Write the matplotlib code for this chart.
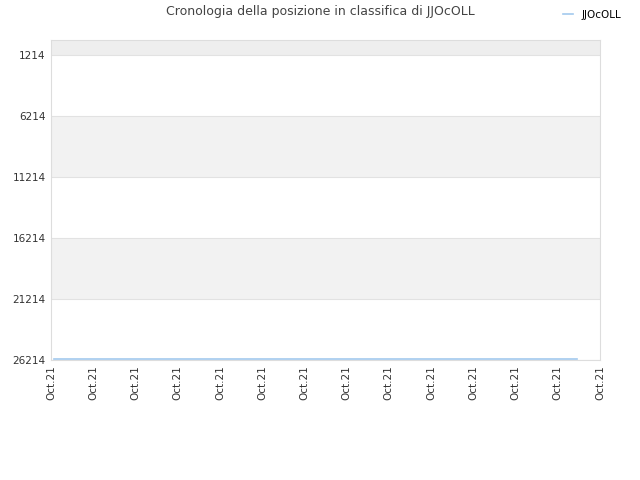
import matplotlib
matplotlib.use("Agg")
import matplotlib.pyplot as plt

title = "Cronologia della posizione in classifica di JJOcOLL"
series_name = "JJOcOLL"
x_ticks = list(range(14))
x_labels = ["Oct.21"] * 14
y_ticks = [1214, 6214, 11214, 16214, 21214, 26214]
x_values = [0.07, 3.0, 6.0, 9.0, 12.45]
ranks = [26150, 26150, 26150, 26150, 26150]

fig = plt.figure(figsize=(6.4, 4.8), dpi=100)
ax = fig.add_axes([0.0797, 0.25, 0.8578, 0.6667])

ax.set_ylim(26214, -15)
ax.set_xlim(0, 13)

# alternating bands
bands = [(-15, 1214, "#eeeeee"), (6214, 11214, "#f2f2f2"), (16214, 21214, "#f2f2f2")]
for lo, hi, c in bands:
    ax.axhspan(lo, hi, color=c, zorder=0, lw=0)
for y in y_ticks:
    ax.axhline(y, color="#e2e2e2", lw=0.8, zorder=1)

ax.plot(x_values, ranks, color="#a3c9ee", lw=1.2, zorder=3, label=series_name)

ax.set_yticks(y_ticks)
ax.set_yticklabels([str(v) for v in y_ticks], fontsize=7.5, color="#333333")
ax.set_xticks(x_ticks)
ax.set_xticklabels(x_labels, rotation=90, fontsize=7.5, color="#333333")
ax.tick_params(length=0, pad=4)

for s in ax.spines.values():
    s.set_color("#dddddd")
    s.set_linewidth(0.8)

fig.text(0.5, 0.975, title, ha="center", va="center", fontsize=9, color="#444444")
leg = fig.legend(loc="upper right", bbox_to_anchor=(0.985, 0.999), frameon=False,
                 fontsize=7.5, handlelength=1.0, handletextpad=0.8)

fig.savefig("out.png", dpi=100)
